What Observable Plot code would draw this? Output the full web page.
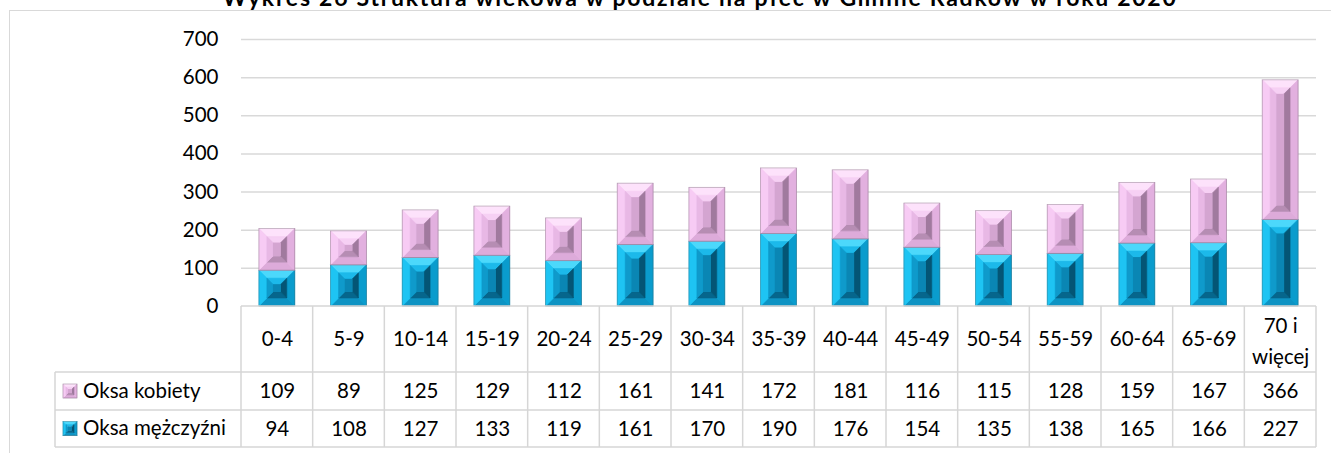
<!DOCTYPE html>
<html>
<head>
<meta charset="utf-8">
<script src="https://cdn.jsdelivr.net/npm/d3@7"></script>
<script src="https://cdn.jsdelivr.net/npm/@observablehq/plot@0.6"></script>
<style>
  html, body { margin: 0; padding: 0; background: #fff; }
  #wrap { position: relative; width: 1331px; height: 453px; overflow: hidden; font-family: Lato, "Open Sans", sans-serif; }
  #frame { position: absolute; left: 9px; top: 10px; width: 1400px; height: 500px; border: 1px solid #d9d9d9; box-sizing: border-box; }
  #title { position: absolute; left: 0; top: -13px; width: 1400px; text-align: center; font-weight: bold; font-size: 23px; line-height: 20px; color: #000; white-space: nowrap; z-index: 2; }
  #chart { position: absolute; left: 0; top: 0; }
</style>
</head>
<body>
<div id="wrap">
  <div id="frame"></div>
  <div id="title"><span id="titleText">Wykres 26 Struktura wiekowa w podziale na płeć w Gminie Radków w roku 2020</span></div>
  <div id="chart"></div>
</div>
<script>
// ---- data ----
const categories = ["0-4","5-9","10-14","15-19","20-24","25-29","30-34","35-39","40-44","45-49","50-54","55-59","60-64","65-69","70 i więcej"];
const women = [109, 89, 125, 129, 112, 161, 141, 172, 181, 116, 115, 128, 159, 167, 366];
const men   = [94, 108, 127, 133, 119, 161, 170, 190, 176, 154, 135, 138, 165, 166, 227];
const seriesNames = ["Oksa kobiety", "Oksa mężczyźni"];
const yTicks = [0, 100, 200, 300, 400, 500, 600, 700];
const categoryLines = categories.map(c => c === "70 i więcej" ? ["70 i", "więcej"] : [c]);

// ---- layout ----
const W = 1331, H = 453;
const mTop = 39, mBottom = 147, mLeft = 241, mRight = 15;
const y0px = H - mBottom;             // 306
const k = (H - mTop - mBottom) / 700;  // px per unit
const yFromPx = px => (y0px - px) / k;
const rowLines = [306, 372, 410, 447];
const legendLeft = 55;
const FS = 20.5;

const palettes = {
  "Oksa mężczyźni": {
    base: "#1bc3f1",
    frame: {top: "#4cd8fb", left: "#1ec4f3", right: "#0a9ccd", bottom: "#0d93c3"},
    inner: {top: "#1cb9ea", left: "#0f9acb", right: "#045575", bottom: "#06668c"},
    center: "#0a86b4"
  },
  "Oksa kobiety": {
    base: "#f6c8f3",
    frame: {top: "#fde2fb", left: "#f7cbf4", right: "#e2b0df", bottom: "#ddabda"},
    inner: {top: "#f6d0f4", left: "#e8b8e5", right: "#a07a9e", bottom: "#b68db3"},
    center: "#d4a5d1"
  }
};

const rows = categories.flatMap((c, i) => [
  {cat: c, series: "Oksa mężczyźni", value: men[i], lo: 0, hi: men[i]},
  {cat: c, series: "Oksa kobiety", value: women[i], lo: men[i], hi: men[i] + women[i]}
]);

const headerData = categoryLines.flatMap((lines, i) => lines.map((t, j) => ({
  cat: categories[i], text: t,
  px: lines.length === 1 ? (rowLines[0] + rowLines[1]) / 2 : (j === 0 ? 325.5 : 357)
})));

const chart = Plot.plot({
  width: W, height: H,
  marginTop: mTop, marginBottom: mBottom, marginLeft: mLeft, marginRight: mRight,
  style: {fontFamily: "Lato, 'Open Sans', sans-serif", fontSize: FS + "px", color: "#000", background: "transparent", overflow: "visible"},
  x: {type: "band", domain: categories, paddingInner: 0.5, paddingOuter: 0.25, round: false, axis: null},
  y: {domain: [0, 700], ticks: yTicks, tickSize: 0, tickPadding: 23, label: null},
  color: {domain: seriesNames, range: [palettes["Oksa kobiety"].base, palettes["Oksa mężczyźni"].base]},
  marks: [
    Plot.ruleY(yTicks.filter(t => t > 0), {stroke: "#d9d9d9", strokeWidth: 1.5}),
    Plot.rectY(rows, {x: "cat", y: "value", fill: "series"}),
    Plot.text(headerData, {x: "cat", y: d => yFromPx(d.px), text: "text", fill: "#000", fontSize: FS}),
    Plot.text(categories, {x: d => d, y: () => yFromPx((rowLines[1] + rowLines[2]) / 2), text: (d, i) => String(women[i]), fill: "#000", fontSize: FS}),
    Plot.text(categories, {x: d => d, y: () => yFromPx((rowLines[2] + rowLines[3]) / 2), text: (d, i) => String(men[i]), fill: "#000", fontSize: FS})
  ]
});
document.getElementById("chart").appendChild(chart);

// ---- decoration using Plot's scales ----
const xs = chart.scale("x"), ys = chart.scale("y");
const step = xs.step, bw = xs.bandwidth;
const svg = d3.select(chart);
const deco = svg.append("g");

function poly(g, pts, fill) {
  g.append("polygon").attr("points", pts.map(p => p.join(",")).join(" "))
    .attr("fill", fill).attr("stroke", fill).attr("stroke-width", 0.6);
}
function frustum(g, a0, b0, a1, b1, d, cols) {
  d = Math.max(0, Math.min(d, (a1 - a0) / 2, (b1 - b0) / 2));
  poly(g, [[a0, b0], [a1, b0], [a1 - d, b0 + d], [a0 + d, b0 + d]], cols.top);
  poly(g, [[a0, b1], [a1, b1], [a1 - d, b1 - d], [a0 + d, b1 - d]], cols.bottom);
  poly(g, [[a0, b0], [a0 + d, b0 + d], [a0 + d, b1 - d], [a0, b1]], cols.left);
  poly(g, [[a1, b0], [a1 - d, b0 + d], [a1 - d, b1 - d], [a1, b1]], cols.right);
  return [a0 + d, b0 + d, a1 - d, b1 - d];
}
function bevel(g, x0, y0, x1, y1, pal, d1, d2) {
  const r1 = frustum(g, x0, y0, x1, y1, d1, pal.frame);
  const r2 = frustum(g, r1[0], r1[1], r1[2], r1[3], d2, pal.inner);
  g.append("rect").attr("x", r2[0]).attr("y", r2[1])
    .attr("width", Math.max(0, r2[2] - r2[0])).attr("height", Math.max(0, r2[3] - r2[1]))
    .attr("fill", pal.center);
  g.append("rect").attr("x", x0).attr("y", y0).attr("width", x1 - x0).attr("height", y1 - y0)
    .attr("fill", "none").attr("stroke", "rgba(70,70,70,0.35)").attr("stroke-width", 0.8);
}
rows.forEach(r => {
  const x0 = xs.apply(r.cat), x1 = x0 + bw;
  const yTop = ys.apply(r.hi), yBot = ys.apply(r.lo);
  bevel(deco, x0, yTop, x1, yBot, palettes[r.series], 8, 6);
});

// table grid
const grid = svg.append("g").attr("stroke", "#d6d6d6").attr("stroke-width", 1.5).attr("fill", "none");
const colStart = xs.apply(categories[0]) - (step - bw) / 2;
const colEnd = colStart + step * categories.length;
grid.append("line").attr("x1", colStart).attr("x2", colEnd).attr("y1", rowLines[0]).attr("y2", rowLines[0]);
for (let j = 1; j < rowLines.length; j++) {
  grid.append("line").attr("x1", legendLeft).attr("x2", colEnd).attr("y1", rowLines[j]).attr("y2", rowLines[j]);
}
grid.append("line").attr("x1", legendLeft).attr("x2", legendLeft).attr("y1", rowLines[1]).attr("y2", rowLines[3]);
for (let i = 0; i <= categories.length; i++) {
  const xx = colStart + i * step;
  grid.append("line").attr("x1", xx).attr("x2", xx).attr("y1", rowLines[0]).attr("y2", rowLines[3]);
}

// legend in table
const leg = svg.append("g").attr("text-anchor", "start");
const legendRows = [
  {name: seriesNames[0], cy: (rowLines[1] + rowLines[2]) / 2},
  {name: seriesNames[1], cy: (rowLines[2] + rowLines[3]) / 2}
];
legendRows.forEach(l => {
  bevel(leg, 63, l.cy - 7, 77, l.cy + 7, palettes[l.name], 3, 2);
  leg.append("text").attr("x", 83).attr("y", l.cy).attr("dy", "0.32em")
    .attr("text-anchor", "start")
    .attr("font-size", FS).attr("fill", "#000").text(l.name);
});

// title width fit
const tt = document.getElementById("titleText");
const tw = tt.getBoundingClientRect().width;
const n = tt.textContent.length;
tt.style.letterSpacing = ((955 - tw) / n) + "px";
</script>
</body>
</html>
